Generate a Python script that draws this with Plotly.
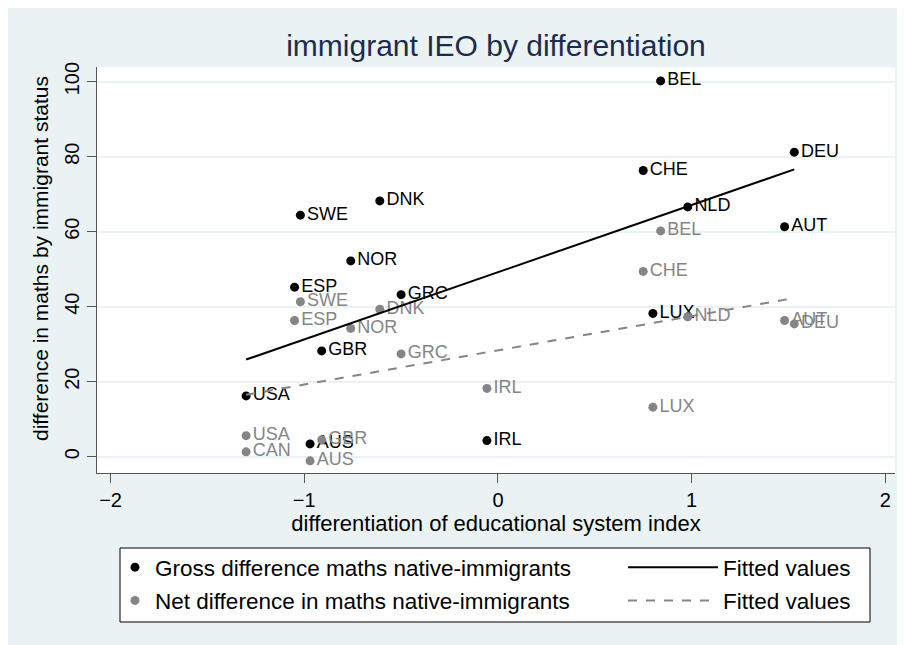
import plotly.graph_objects as go

countries = ["AUS", "AUT", "BEL", "CAN", "CHE", "DEU", "DNK", "ESP",
             "GBR", "GRC", "IRL", "LUX", "NLD", "NOR", "SWE", "USA"]
diff_index = [-0.97, 1.48, 0.84, -1.30, 0.75, 1.53, -0.61, -1.05,
              -0.91, -0.50, -0.057, 0.80, 0.98, -0.76, -1.02, -1.30]
gross_diff = [3.4, 61.3, 100.2, None, 76.3, 81.2, 68.2, 45.2,
              28.2, 43.2, 4.3, 38.2, 66.6, 52.2, 64.4, 16.2]
net_diff = [-1.1, 36.3, 60.2, 1.3, 49.4, 35.4, 39.3, 36.3,
            4.5, 27.4, 18.2, 13.2, 37.3, 34.2, 41.3, 5.6]

fit_x = [-1.30, 1.53]
fit_gross = [25.9, 76.6]
fit_net = [16.5, 42.3]

x_ticks = [-2, -1, 0, 1, 2]
y_ticks = [0, 20, 40, 60, 80, 100]

BG = "#EAF2F3"
GREY = "#858585"
FONT = "Liberation Sans, Arial, sans-serif"

gx = [x for x, v in zip(diff_index, gross_diff) if v is not None]
gy = [v for v in gross_diff if v is not None]
gl = [c for c, v in zip(countries, gross_diff) if v is not None]

fig = go.Figure()
fig.add_trace(go.Scatter(
    x=gx, y=gy, text=gl, mode="markers+text", textposition="middle right",
    marker=dict(color="black", size=9),
    textfont=dict(color="black", size=18, family=FONT),
    name="Gross difference maths native-immigrants",
    legend="legend", legendgroup="g1"))
fig.add_trace(go.Scatter(
    x=diff_index, y=net_diff, text=countries, mode="markers+text",
    textposition="middle right",
    marker=dict(color=GREY, size=9),
    textfont=dict(color=GREY, size=18, family=FONT),
    name="Net difference in maths native-immigrants",
    legend="legend", legendgroup="g2"))
fig.add_trace(go.Scatter(
    x=fit_x, y=fit_gross, mode="lines", line=dict(color="black", width=2),
    name="Fitted values", legend="legend2", legendgroup="g3"))
fig.add_trace(go.Scatter(
    x=fit_x, y=fit_net, mode="lines",
    line=dict(color=GREY, width=2, dash="dash"),
    name="Fitted values", legend="legend2", legendgroup="g4"))

OFF = 8  # page offset of the figure
L, R, T, B = 89, 18, 59, 180
W, H = 905, 645
pw = W - L - R
ph = H - T - B

def px_x(p):
    return (p - OFF - L) / pw

def px_y(p):
    return (H - B - (p - OFF)) / ph

fig.add_shape(type="rect", xref="paper", yref="paper",
              x0=px_x(120), x1=px_x(870), y0=px_y(622), y1=px_y(548),
              fillcolor="white", line=dict(color="black", width=1), layer="below")

fig.add_annotation(text="difference in maths by immigrant status",
                   xref="paper", yref="paper", x=px_x(40), y=px_y(259),
                   xanchor="center", yanchor="middle", textangle=-90,
                   showarrow=False, font=dict(size=21, color="black", family=FONT))

fig.update_layout(
    width=W, height=H,
    margin=dict(l=L, r=R, t=T, b=B),
    paper_bgcolor=BG, plot_bgcolor="white",
    font=dict(family=FONT, color="black", size=18),
    title=dict(text="immigrant IEO by differentiation", x=0.5, xref="paper",
               xanchor="center", y=1 - (45 - OFF) / H, yanchor="middle",
               font=dict(size=30, color="#1C2C4C", family=FONT)),
    xaxis=dict(range=[-2.07, 2.05], tickvals=x_ticks, ticks="outside",
               ticklen=9, tickcolor="#555555", showline=True, linecolor="#555555",
               linewidth=1, showgrid=False, zeroline=False,
               tickfont=dict(size=20),
               title=dict(text="differentiation of educational system index",
                          font=dict(size=22), standoff=0)),
    yaxis=dict(range=[-4.35, 103.9], tickvals=y_ticks, ticks="outside",
               ticklen=9, tickcolor="#555555", showline=True, linecolor="#555555",
               linewidth=1, showgrid=True, gridcolor=BG, gridwidth=1.5,
               zeroline=False, tickangle=-90,
               tickfont=dict(size=20)),
    legend=dict(x=px_x(115), y=px_y(546), xanchor="left", yanchor="top",
                bgcolor="rgba(0,0,0,0)", font=dict(size=22.5),
                tracegroupgap=1, orientation="v"),
    legend2=dict(x=px_x(623), y=px_y(546), xanchor="left", yanchor="top",
                 bgcolor="rgba(0,0,0,0)", font=dict(size=22.5),
                 tracegroupgap=1, orientation="v", itemwidth=90),
    showlegend=True,
)

fig.write_html("out.html")
